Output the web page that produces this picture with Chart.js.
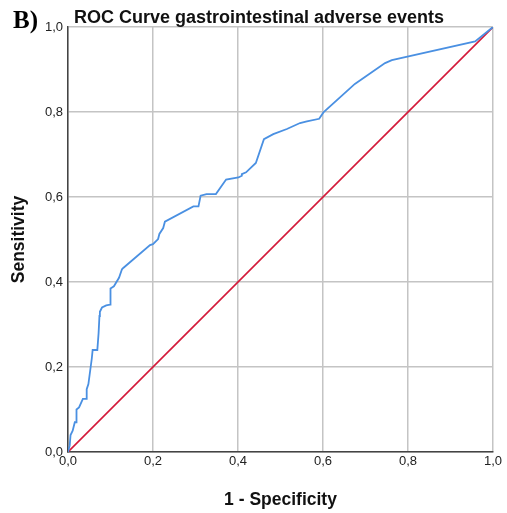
<!DOCTYPE html>
<html>
<head>
<meta charset="utf-8">
<script src="https://cdn.jsdelivr.net/npm/chart.js@4.4.1/dist/chart.umd.min.js"></script>
<style>
  html, body { margin: 0; padding: 0; background: #fff; }
  canvas { display: block; }
</style>
</head>
<body>
<canvas id="roc" width="507" height="513"></canvas>
<script>
// ROC curve (1 - specificity, sensitivity)
const fpr = [0, 0.004, 0.006, 0.011, 0.016, 0.02, 0.02, 0.026, 0.035, 0.044, 0.044, 0.048, 0.052, 0.056,
  0.058, 0.069, 0.072, 0.074, 0.075, 0.08, 0.09, 0.099, 0.1, 0.108, 0.12, 0.127, 0.13, 0.193, 0.2,
  0.212, 0.215, 0.224, 0.228, 0.295, 0.307, 0.312, 0.326, 0.348, 0.372, 0.401, 0.409, 0.409, 0.419,
  0.442, 0.461, 0.483, 0.515, 0.546, 0.562, 0.591, 0.601, 0.675, 0.746, 0.762, 0.958, 1];
const tpr = [0, 0.015, 0.04, 0.05, 0.07, 0.07, 0.1, 0.105, 0.125, 0.125, 0.148, 0.16, 0.19, 0.22,
  0.24, 0.24, 0.28, 0.32, 0.33, 0.34, 0.345, 0.347, 0.385, 0.39, 0.41, 0.43, 0.433, 0.487, 0.489,
  0.501, 0.513, 0.527, 0.542, 0.578, 0.578, 0.603, 0.607, 0.607, 0.641, 0.646, 0.65, 0.654, 0.658,
  0.68, 0.736, 0.748, 0.76, 0.774, 0.778, 0.784, 0.799, 0.866, 0.915, 0.922, 0.966, 1];
const refX = [0, 1];
const refY = [0, 1];
const tickValues = [0, 0.2, 0.4, 0.6, 0.8, 1];
const tickLabels = ["0,0", "0,2", "0,4", "0,6", "0,8", "1,0"];

const pts = (xs, ys) => xs.map((x, i) => ({ x, y: ys[i] }));
const tickText = value => {
  const i = tickValues.findIndex(v => Math.abs(v - value) < 1e-6);
  return i >= 0 ? tickLabels[i] : "";
};

const sans = "'Liberation Sans', Arial, sans-serif";
const grid = { color: "#c4c4c4", lineWidth: 1.5, drawTicks: false };
const border = { color: "#444", width: 1.5 };
const ticks = { color: "#222", font: { family: sans, size: 13 }, callback: tickText };

const titlePlugin = {
  id: "titles",
  afterDraw(chart) {
    const ctx = chart.ctx;
    ctx.save();
    ctx.fillStyle = "#000";
    ctx.textBaseline = "alphabetic";
    ctx.font = "bold 25px 'Liberation Serif', 'Times New Roman', serif";
    ctx.textAlign = "left";
    ctx.fillText("B)", 13, 28);
    ctx.fillStyle = "#111";
    ctx.font = `bold 18px ${sans}`;
    ctx.textAlign = "center";
    ctx.fillText("ROC Curve gastrointestinal adverse events", 259, 22.5);
    ctx.restore();
  }
};

new Chart(document.getElementById("roc"), {
  type: "scatter",
  data: {
    datasets: [{
      label: "ROC",
      data: pts(fpr, tpr),
      showLine: true,
      borderColor: "#4a90e2",
      borderWidth: 1.8,
      pointRadius: 0,
      tension: 0
    }, {
      label: "Reference",
      data: pts(refX, refY),
      showLine: true,
      borderColor: "#d41a3a",
      borderWidth: 1.6,
      pointRadius: 0
    }]
  },
  options: {
    responsive: false,
    animation: false,
    layout: { padding: { top: 27, right: 14, left: 0, bottom: 0 } },
    plugins: { legend: { display: false }, tooltip: { enabled: false } },
    scales: {
      x: {
        type: "linear", min: 0, max: 1,
        afterBuildTicks: scale => { scale.ticks = tickValues.map(value => ({ value })); },
        afterFit: scale => { scale.height = 61; },
        grid, border,
        ticks: { ...ticks, padding: 2, maxRotation: 0 },
        title: { display: true, text: "1 - Specificity", color: "#111",
          font: { family: sans, size: 17.5, weight: "bold" }, padding: { top: 0, bottom: 2 } }
      },
      y: {
        type: "linear", min: 0, max: 1,
        afterBuildTicks: scale => { scale.ticks = tickValues.map(value => ({ value })); },
        afterFit: scale => { scale.width = 68; },
        grid, border,
        ticks: { ...ticks, padding: 5 },
        title: { display: true, text: "Sensitivity", color: "#111",
          font: { family: sans, size: 17.5, weight: "bold" }, padding: { top: 9, bottom: 0 } }
      }
    }
  },
  plugins: [titlePlugin]
});
</script>
</body>
</html>
